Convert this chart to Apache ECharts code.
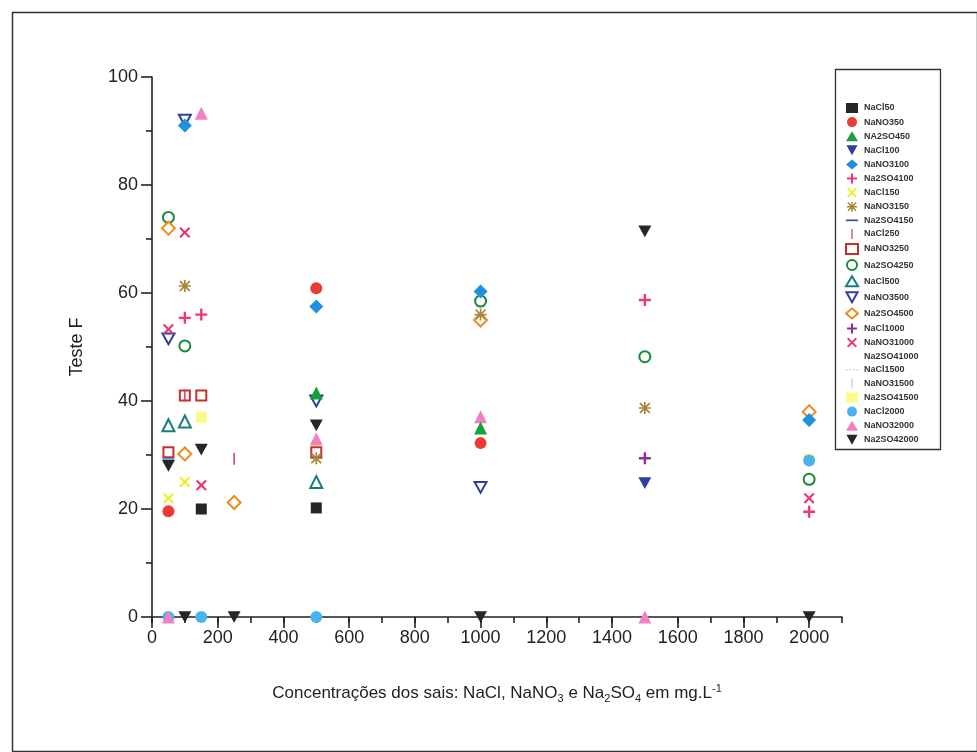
<!DOCTYPE html>
<html><head><meta charset="utf-8">
<script src="https://cdn.jsdelivr.net/npm/echarts@6/dist/echarts.min.js"></script>
<style>html,body{margin:0;padding:0;background:#fff}#c{width:977px;height:752px}</style>
</head><body><div id="c"></div>
<script>
// ---- data (x = concentration mg/L, y = Teste F) ----
const seriesNames = ['NaCl50','NaNO350','NA2SO450','NaCl100','NaNO3100','Na2SO4100','NaCl150','NaNO3150','Na2SO4150','NaCl250','NaNO3250','Na2SO4250','NaCl500','NaNO3500','Na2SO4500','NaCl1000','NaNO31000','Na2SO41000','NaCl1500','NaNO31500','Na2SO41500','NaCl2000','NaNO32000','Na2SO42000'];
const xTicks = [0,200,400,600,800,1000,1200,1400,1600,1800,2000];
const yTicks = [0,20,40,60,80,100];

const dNaCl50     = [[150,20],[500,20.2]];
const dNaNO350    = [[50,19.6],[500,60.9],[1000,32.2]];
const dNA2SO450   = [[500,41.5],[1000,35]];
const dNaCl100    = [[1500,24.8]];
const dNaNO3100   = [[100,91],[500,57.5],[1000,60.3],[2000,36.5]];
const dNa2SO4100  = [[100,55.4],[150,56],[1500,58.7],[2000,19.5]];
const dNaCl150    = [[50,22],[100,25]];
const dNaNO3150   = [[100,61.3],[500,29.4],[1000,56],[1500,38.7]];
const dNa2SO4150  = [];
const dNaCl250    = [[250,29.3],[100,41]];
const dNaNO3250   = [[50,30.5],[100,41],[150,41],[500,30.5]];
const dNa2SO4250  = [[50,74],[100,50.2],[1000,58.5],[1500,48.2],[2000,25.5]];
const dNaCl500    = [[50,35.5],[100,36.2],[500,25]];
const dNaNO3500   = [[100,92],[50,51.5],[500,40],[1000,24]];
const dNa2SO4500  = [[50,72],[100,30.2],[250,21.2],[1000,55],[2000,38]];
const dNaCl1000   = [[1500,29.4]];
const dNaNO31000  = [[50,53.3],[100,71.2],[150,24.4],[2000,22]];
const dNa2SO41000 = [];
const dNaCl1500   = [];
const dNaNO31500  = [];
const dNa2SO41500 = [[150,37],[500,31.5],[2000,29.3]];
const dNaCl2000   = [[50,29.5],[2000,29],[50,0],[150,0],[500,0]];
const dNaNO32000  = [[150,93.3],[500,33],[1000,37.1],[50,0],[1500,0]];
const dNa2SO42000 = [[50,28],[150,31],[500,35.5],[1500,71.4],[100,0],[250,0],[1000,0],[2000,0]];

const seriesData = [dNaCl50,dNaNO350,dNA2SO450,dNaCl100,dNaNO3100,dNa2SO4100,dNaCl150,dNaNO3150,dNa2SO4150,dNaCl250,dNaNO3250,dNa2SO4250,dNaCl500,dNaNO3500,dNa2SO4500,dNaCl1000,dNaNO31000,dNa2SO41000,dNaCl1500,dNaNO31500,dNa2SO41500,dNaCl2000,dNaNO32000,dNa2SO42000];

// ---- marker styles ----
const PLUS = 'path://M4,0H6V4H10V6H6V10H4V6H0V4H4Z';
const CROSS = 'path://M1.4,0L5,3.6L8.6,0L10,1.4L6.4,5L10,8.6L8.6,10L5,6.4L1.4,10L0,8.6L3.6,5L0,1.4Z';
const STAR = 'path://M4.3,0H5.7V4.3H10V5.7H5.7V10H4.3V5.7H0V4.3H4.3Z M1.4,0.4L5,4L8.6,0.4L9.6,1.4L6,5L9.6,8.6L8.6,9.6L5,6L1.4,9.6L0.4,8.6L4,5L0.4,1.4Z';
const INVTRI = 'path://M0,0H10L5,9Z';
const HDASH = 'path://M0,0H10V1.4H0Z';
const VDASH = 'path://M0,0H1.2V10H0Z';
const DOTS = 'path://M0,0H1V0.8H0Z M3,0H4V0.8H3Z M6,0H7V0.8H6Z M9,0H10V0.8H9Z';
const VTHIN = 'path://M0,0H0.6V10H0Z';
const styles = [
  {s:'rect', c:'#262626', z:11},
  {s:'circle', c:'#ec3b34', z:13},
  {s:'triangle', c:'#15a03a', z:13},
  {s:INVTRI, c:'#2f3f9e', z:12, size:13},
  {s:'diamond', c:'#1f8fe0', z:15},
  {s:PLUS, c:'#f0357d', z:11},
  {s:CROSS, c:'#eeee2a', z:12, size:11},
  {s:STAR, c:'#a8863a', z:11},
  {s:HDASH, c:'#3e4e9e', z:11},
  {s:VDASH, c:'#c8357a', z:16},
  {s:'rect', c:'#c8302e', hollow:true, z:10},
  {s:'circle', c:'#1a8a3a', hollow:true, z:10},
  {s:'triangle', c:'#1a7d80', hollow:true, z:10},
  {s:INVTRI, c:'#2f3f9e', hollow:true, z:10, size:13},
  {s:'diamond', c:'#f08a22', hollow:true, z:10},
  {s:PLUS, c:'#8a2f9e', z:11},
  {s:CROSS, c:'#ea3575', z:11, size:11},
  {s:'none', c:'rgba(0,0,0,0)', z:10},
  {s:DOTS, c:'#9a9a9a', z:10},
  {s:VTHIN, c:'#8a8a8a', z:10},
  {s:'rect', c:'#fbfb8a', z:9},
  {s:'circle', c:'#48b4f0', z:9},
  {s:'triangle', c:'#f37fc4', z:9},
  {s:INVTRI, c:'#262626', z:12, size:13}
];
const sizes = {rect:11, circle:12, triangle:13, diamond:14};

const series = seriesNames.map((name,i)=>{
  const st = styles[i];
  let size = st.size || sizes[st.s] || 12;
  const item = st.hollow
    ? {color:'#ffffff', borderColor:st.c, borderWidth:2, opacity:1}
    : {color:st.c, opacity:1};
  return {
    name, type:'scatter', data:seriesData[i], symbol:st.s, symbolSize: st.hollow ? size-1 : size,
    symbolKeepAspect:true, itemStyle:item, z: st.z, clip:false,
    emphasis:{disabled:true}
  };
});

const chart = echarts.init(document.getElementById('c'), null, {renderer:'canvas'});
const FONT = 'Liberation Sans, Arial, sans-serif';
chart.setOption({
  animation:false,
  backgroundColor:'#ffffff',
  grid:{left:152, right:135, top:77, bottom:135, outerBoundsMode:'none', containLabel:false},
  xAxis:[{
    type:'value', min:0, max:2100, interval:200,
    axisLine:{show:true, onZero:false, lineStyle:{color:'#222', width:1.6}},
    axisTick:{show:true, length:11, lineStyle:{color:'#222', width:1.6}},
    axisLabel:{show:true, showMaxLabel:false, margin:12, fontSize:18, color:'#222', fontFamily:FONT,
      formatter:v=> xTicks.includes(v) ? String(v) : ''},
    splitLine:{show:false},
    name:'Concentrações dos sais: NaCl, NaNO{sub|3} e Na{sub|2}SO{sub|4} em mg.L{sup|-1}',
    nameLocation:'middle', nameGap:66,
    nameTextStyle:{fontSize:17, color:'#222', fontFamily:FONT,
      rich:{sub:{fontSize:11, color:'#222', fontFamily:FONT, padding:[10,0,0,0]},
            sup:{fontSize:11, color:'#222', fontFamily:FONT, padding:[0,0,10,0]}}}
  },{
    type:'value', min:0, max:2100, interval:100, position:'bottom',
    axisLine:{show:false},
    axisTick:{show:true, length:6, lineStyle:{color:'#222', width:1.6}},
    axisLabel:{show:false}, splitLine:{show:false}
  }],
  yAxis:[{
    type:'value', min:0, max:100, interval:20,
    axisLine:{show:true, onZero:false, lineStyle:{color:'#222', width:1.6}},
    axisTick:{show:true, length:11, lineStyle:{color:'#222', width:1.6}},
    minorTick:{show:true, splitNumber:2, length:6, lineStyle:{color:'#222', width:1.6}},
    axisLabel:{margin:14, fontSize:18, color:'#222', fontFamily:FONT,
      formatter:v=> yTicks.includes(v) ? String(v) : ''},
    splitLine:{show:false},
    name:'Teste F', nameLocation:'middle', nameGap:66, nameRotate:90,
    nameTextStyle:{fontSize:18, color:'#222', fontFamily:FONT}
  }],
  legend:{
    show:true, orient:'vertical', left:840, top:98, itemGap:4.1,
    itemWidth:12, itemHeight:10,
    data:seriesNames,
    textStyle:{fontSize:9, fontWeight:'bold', color:'#333', fontFamily:FONT, padding:[0,0,0,1]},
    selectedMode:false
  },
  graphic:[
    {type:'rect', left:10, top:10, shape:{width:965, height:739}, style:{fill:'none', stroke:'#333', lineWidth:1.5}, silent:true, z:-1},
    {type:'rect', left:833, top:67, shape:{width:105, height:380}, style:{fill:'none', stroke:'#333', lineWidth:1.3}, silent:true}
  ],
  series
});
</script></body></html>
